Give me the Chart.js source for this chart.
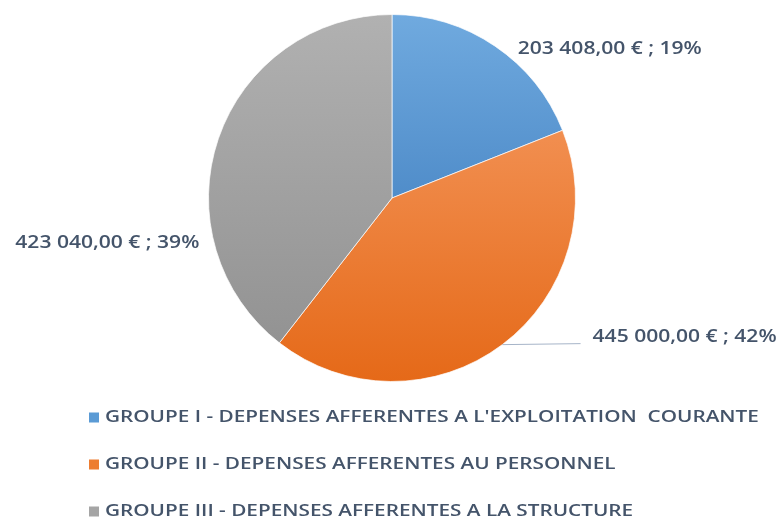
<!DOCTYPE html>
<html>
<head>
<meta charset="utf-8">
<script src="https://cdn.jsdelivr.net/npm/chart.js@4/dist/chart.umd.min.js"></script>
<style>
    html, body { margin: 0; padding: 0; background: #ffffff; }
    #wrap { width: 780px; height: 518px; position: relative; }
</style>
</head>
<body>
<div id="wrap"><canvas id="pieChart" width="780" height="518"></canvas></div>
<script>
// Budget split by groupe
const categories = [
    'GROUPE I - DEPENSES AFFERENTES A L\'EXPLOITATION  COURANTE',
    'GROUPE II - DEPENSES AFFERENTES AU PERSONNEL',
    'GROUPE III - DEPENSES AFFERENTES A LA STRUCTURE'
];
const amounts = [203408, 445000, 423040];
const valueLabels = ['203 408,00 € ; 19%', '445 000,00 € ; 42%', '423 040,00 € ; 39%'];

const legendColors = ['#5b9bd5', '#ed7d31', '#a5a5a5'];
// top / bottom shade of each slice across the pie height
const shadeStops = [
    ['#70aadf', '#2f6fb4'],
    ['#f7a06a', '#e56918'],
    ['#b1b1b1', '#8f8f8f']
];

const textColor = '#44546a';
const labelFont = '600 18px "Open Sans"';
const legendFont = '600 17px "Open Sans"';

function sliceFill(context) {
    const { ctx, chartArea } = context.chart;
    if (!chartArea) return legendColors[context.dataIndex];
    const stops = shadeStops[context.dataIndex];
    const g = ctx.createLinearGradient(0, chartArea.top, 0, chartArea.bottom);
    g.addColorStop(0, stops[0]);
    g.addColorStop(1, stops[1]);
    return g;
}

// the source text is drawn a bit wide
function wideText(ctx, txt, x, y, align, sx) {
    ctx.save();
    ctx.translate(x, y);
    ctx.scale(sx, 1);
    ctx.textAlign = align;
    ctx.fillText(txt, 0, 0);
    ctx.restore();
}

// where each value label sits, relative to the pie centre (in radius units)
const labelAnchors = [
    { dx: 0.685, dy: -0.82, align: 'left' },
    { dx: 1.093, dy: 0.75, align: 'left', leader: true },
    { dx: -1.05, dy: 0.24, align: 'right' }
];

const pieLabels = {
    id: 'pieLabels',
    afterDraw(chart) {
        const ctx = chart.ctx;
        const arc = chart.getDatasetMeta(0).data[0];
        if (!arc) return;
        const cx = arc.x, cy = arc.y, r = arc.outerRadius;
        ctx.save();
        ctx.fillStyle = textColor;
        ctx.textBaseline = 'middle';
        ctx.font = labelFont;
        valueLabels.forEach((txt, i) => {
            const a = labelAnchors[i];
            const x = cx + a.dx * r;
            const y = cy + a.dy * r + 1;
            wideText(ctx, txt, x, y, a.align, 1.17);
            if (a.leader) {
                // leader line from the pie edge to the label
                const ey = y + 8;
                const ex = cx + Math.sqrt(Math.max(r * r - (ey - cy) * (ey - cy), 0));
                ctx.strokeStyle = '#a6b4c8';
                ctx.lineWidth = 1;
                ctx.beginPath();
                ctx.moveTo(ex, ey);
                ctx.lineTo(x - 12, ey - 1);
                ctx.stroke();
            }
        });

        // legend
        ctx.font = legendFont;
        categories.forEach((name, i) => {
            const y = cy + r + 36 + i * 47;
            ctx.fillStyle = legendColors[i];
            ctx.fillRect(89, y - 5, 10, 10);
            ctx.fillStyle = textColor;
            wideText(ctx, name, 105, y, 'left', 1.22);
        });
        ctx.restore();
    }
};

new Chart(document.getElementById('pieChart'), {
    type: 'pie',
    data: {
        labels: categories,
        datasets: [{
            data: amounts,
            backgroundColor: sliceFill,
            borderColor: 'rgba(255,255,255,0.7)',
            borderWidth: 1
        }]
    },
    options: {
        responsive: false,
        animation: false,
        layout: { padding: { top: 14, bottom: 136, left: 4, right: 0 } },
        plugins: {
            legend: { display: false },
            tooltip: { enabled: false }
        }
    },
    plugins: [pieLabels]
});
</script>
</body>
</html>
